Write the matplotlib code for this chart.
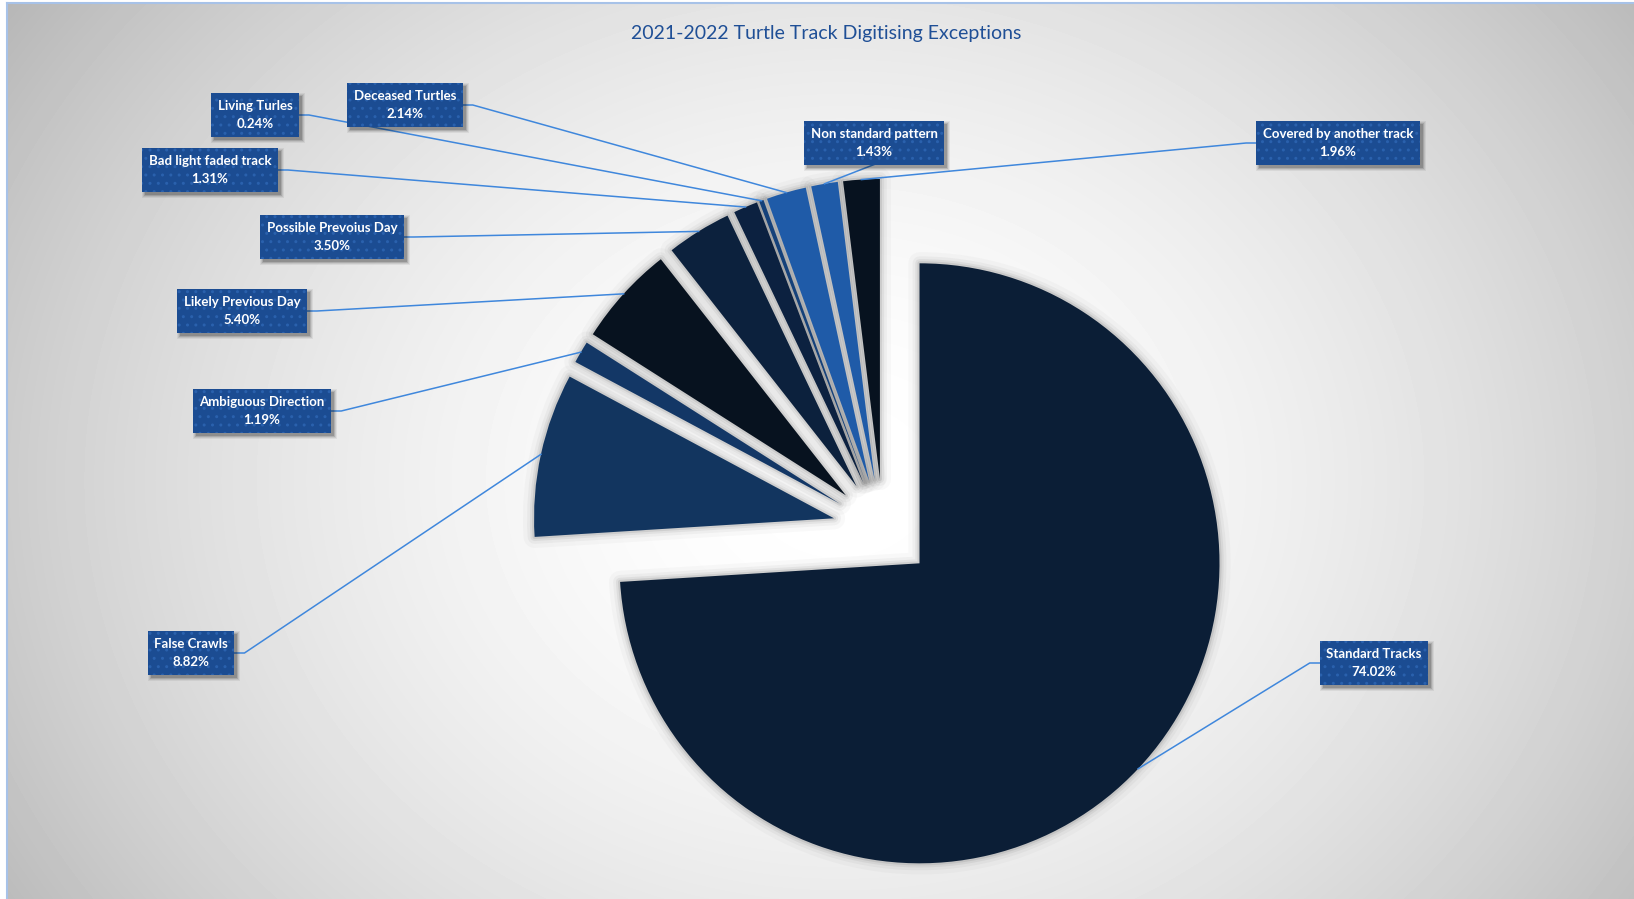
import matplotlib.pyplot as plt
from matplotlib.patches import Wedge, Rectangle
import numpy as np

# Exception categories, clockwise from 12 o'clock
categories = ["Standard Tracks", "False Crawls", "Ambiguous Direction",
              "Likely Previous Day", "Possible Prevoius Day", "Bad light faded track",
              "Living Turles", "Deceased Turtles", "Non standard pattern",
              "Covered by another track"]
shares = [74.02, 8.82, 1.19, 5.40, 3.50, 1.31, 0.24, 2.14, 1.43, 1.96]

slice_colors = ["#0b1e36", "#12355f", "#133766", "#07121f", "#0c213d",
                "#0c2140", "#15417a", "#1f5ba8", "#1f5ba8", "#07121f"]

# label box centres (pixels from top-left) and the side the leader joins
label_pos = [(1374, 663), (191, 653), (262, 411), (242, 311), (332, 237),
             (210, 170), (255, 115), (405, 105), (874, 143), (1338, 143)]
label_side = ["l", "r", "r", "r", "r", "r", "r", "r", "b", "l"]

title = "2021-2022 Turtle Track Digitising Exceptions"

W, H = 1634, 899
R_PX = 300.0          # pie radius in pixels
CX, CY = 883, 529     # pie centre in pixels


def px(x, y):
    return (x - CX) / R_PX, (CY - y) / R_PX


fig = plt.figure(figsize=(W / 100, H / 100), dpi=100)
fig.patch.set_facecolor("white")

# radial grey backdrop
bg = fig.add_axes([0, 0, 1, 1])
bg.set_xlim(0, W)
bg.set_ylim(H, 0)
bg.axis("off")
yy, xx = np.mgrid[3:H, 7:W]
d = np.hypot((xx - 840) / 820.0, (yy - 480) / 680.0)
shade = 1 - 0.25 * np.clip(d / 1.15, 0, 1.1) ** 1.8
bg.imshow(shade, cmap="gray", vmin=0, vmax=1, extent=(7, W, H, 3),
          interpolation="bilinear", aspect="auto")
bg.plot([7, 7], [3, H], color="#a7c2e8", lw=1.5)
bg.plot([7, W], [3, 3], color="#a7c2e8", lw=1.5)

ax = fig.add_axes([0, 0, 1, 1])
ax.patch.set_alpha(0)
wedges, _ = ax.pie(shares, explode=[0.167] * len(shares), startangle=90,
                   counterclock=False, colors=slice_colors, radius=1,
                   wedgeprops=dict(linewidth=0, zorder=3))
ax.set_aspect("auto")
ax.set_xlim(-CX / R_PX, (W - CX) / R_PX)
ax.set_ylim(-(H - CY) / R_PX, CY / R_PX)
ax.axis("off")

# soft shadow around each slice
for w in wedges:
    for lw, a in [(16, 0.03), (10, 0.05), (6, 0.08), (3, 0.12)]:
        ax.add_patch(Wedge(w.center, w.r, w.theta1, w.theta2, fc="none",
                           ec="#4d4d4d", lw=lw, alpha=a, zorder=1,
                           joinstyle="round"))

texts = []
for name, v, pos in zip(categories, shares, label_pos):
    t = ax.text(*px(*pos), f"{name}\n{v:.2f}%", ha="center", va="center",
                color="white", fontsize=9.5, fontweight="bold", family="Lato",
                linespacing=1.6, zorder=6,
                bbox=dict(boxstyle="square,pad=0.5", fc="#1b4c92",
                          ec="#2a61ad", lw=0, hatch=".."))
    texts.append(t)

fig.text(826 / W, 1 - 33 / H, title, ha="center", va="center",
         fontsize=14, color="#1f4f96", family="Lato")

# leader lines from each slice's arc midpoint to its label box
fig.canvas.draw()
renderer = fig.canvas.get_renderer()
inv = ax.transData.inverted()
stub = 10 / R_PX
for w, t, side in zip(wedges, texts, label_side):
    th = np.deg2rad((w.theta1 + w.theta2) / 2)
    ax_pt = (w.center[0] + w.r * np.cos(th), w.center[1] + w.r * np.sin(th))
    bb = t.get_bbox_patch().get_window_extent(renderer)
    (x0, y0), (x1, y1) = inv.transform([[bb.x0, bb.y0], [bb.x1, bb.y1]])
    yc = (y0 + y1) / 2
    xc = (x0 + x1) / 2
    if side == "r":
        pts = [ax_pt, (x1 + stub, yc), (x1, yc)]
    elif side == "l":
        pts = [ax_pt, (x0 - stub, yc), (x0, yc)]
    else:
        pts = [ax_pt, (xc, y0)]
    xs, ys = zip(*pts)
    ax.plot(xs, ys, color="#3f87dc", lw=1.1, zorder=4)

    # blurred drop shadow under the box
    for grow, a in [(3, 0.06), (2, 0.08), (1, 0.12), (0, 0.16)]:
        g = grow / R_PX
        off = 3 / R_PX
        ax.add_patch(Rectangle((x0 + off - g, y0 - off - g),
                               (x1 - x0) + 2 * g, (y1 - y0) + 2 * g,
                               fc="black", ec="none", alpha=a, zorder=5))

fig.savefig("out.png", dpi=100)
